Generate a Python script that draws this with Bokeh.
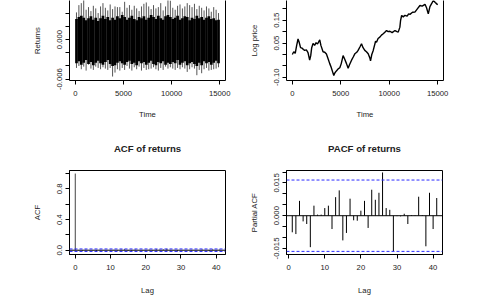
from bokeh.plotting import figure
from bokeh.layouts import column, row
from bokeh.models import FixedTicker, NumeralTickFormatter, LinearAxis, Span, Range1d
from bokeh.embed import file_html
from bokeh.resources import INLINE

# ---------------- data ----------------
# Returns: per-bin envelope (bins of 250 time steps) read from the dense band
ret_time = list(range(125, 15000, 250))
ret_band_hi = [0.0031, 0.0034, 0.0036, 0.0033, 0.0029, 0.0032, 0.0035, 0.0030, 0.0033, 0.0028,
               0.0032, 0.0036, 0.0031, 0.0034, 0.0029, 0.0033, 0.0030, 0.0035, 0.0032, 0.0037,
               0.0034, 0.0030, 0.0033, 0.0036, 0.0031, 0.0029, 0.0034, 0.0032, 0.0035, 0.0030,
               0.0033, 0.0037, 0.0034, 0.0031, 0.0036, 0.0032, 0.0030, 0.0035, 0.0037, 0.0034,
               0.0031, 0.0033, 0.0036, 0.0030, 0.0032, 0.0035, 0.0034, 0.0029, 0.0033, 0.0031,
               0.0036, 0.0032, 0.0034, 0.0030, 0.0033, 0.0035, 0.0031, 0.0032, 0.0029, 0.0030]
ret_band_lo = [-0.0036, -0.0033, -0.0038, -0.0035, -0.0031, -0.0037, -0.0034, -0.0039, -0.0035, -0.0032,
               -0.0036, -0.0038, -0.0034, -0.0031, -0.0037, -0.0040, -0.0039, -0.0035, -0.0033, -0.0036,
               -0.0038, -0.0034, -0.0032, -0.0037, -0.0035, -0.0039, -0.0033, -0.0036, -0.0034, -0.0038,
               -0.0035, -0.0032, -0.0037, -0.0039, -0.0034, -0.0036, -0.0033, -0.0038, -0.0035, -0.0037,
               -0.0034, -0.0036, -0.0031, -0.0038, -0.0035, -0.0033, -0.0039, -0.0036, -0.0034, -0.0037,
               -0.0040, -0.0035, -0.0039, -0.0033, -0.0036, -0.0034, -0.0038, -0.0035, -0.0032, -0.0036]
ret_hi = [0.0041, 0.0052, 0.0055, 0.0060, 0.0045, 0.0049, 0.0043, 0.0051, 0.0047, 0.0040,
          0.0050, 0.0055, 0.0048, 0.0044, 0.0053, 0.0046, 0.0050, 0.0049, 0.0049, 0.0042,
          0.0057, 0.0048, 0.0052, 0.0045, 0.0051, 0.0047, 0.0043, 0.0050, 0.0054, 0.0056,
          0.0050, 0.0046, 0.0052, 0.0047, 0.0049, 0.0055, 0.0044, 0.0050, 0.0061, 0.0059,
          0.0048, 0.0045, 0.0051, 0.0053, 0.0047, 0.0050, 0.0055, 0.0052, 0.0049, 0.0054,
          0.0046, 0.0051, 0.0048, 0.0044, 0.0050, 0.0047, 0.0042, 0.0049, 0.0045, 0.0040]
ret_lo = [-0.0043, -0.0040, -0.0045, -0.0041, -0.0047, -0.0038, -0.0044, -0.0046, -0.0041, -0.0043,
          -0.0045, -0.0042, -0.0044, -0.0046, -0.0043, -0.0056, -0.0050, -0.0045, -0.0047, -0.0043,
          -0.0046, -0.0040, -0.0044, -0.0047, -0.0042, -0.0045, -0.0041, -0.0047, -0.0043, -0.0046,
          -0.0045, -0.0044, -0.0042, -0.0045, -0.0047, -0.0043, -0.0046, -0.0041, -0.0044, -0.0042,
          -0.0044, -0.0046, -0.0043, -0.0045, -0.0042, -0.0044, -0.0049, -0.0045, -0.0042, -0.0044,
          -0.0054, -0.0046, -0.0051, -0.0045, -0.0043, -0.0047, -0.0046, -0.0045, -0.0044, -0.0042]

# Log price
logp_time = [0, 150, 300, 450, 590, 700, 850, 1000, 1150, 1270, 1450, 1620, 1790, 1900, 2000,
             2140, 2300, 2450, 2600, 2830, 2950, 3170, 3350, 3520, 3700, 3860, 4000, 4150, 4280,
             4400, 4550, 4730, 4900, 5050, 5240, 5400, 5590, 5760, 5900, 6100, 6300, 6450, 6650,
             6790, 7000, 7140, 7300, 7480, 7650, 7830, 8000, 8070, 8200, 8350, 8590, 8690, 8850,
             9030, 9200, 9380, 9550, 9720, 9900, 10070, 10300, 10590, 10800, 10930, 11100, 11170,
             11280, 11450, 11620, 11850, 12000, 12140, 12400, 12650, 12900, 13170, 13400, 13690,
             13850, 14030, 14200, 14400, 14550, 14750, 14900, 15000]
logp_vals = [0.000, 0.012, 0.005, 0.040, 0.068, 0.055, 0.030, 0.028, 0.022, 0.018, 0.020, 0.008,
             -0.024, -0.005, 0.030, 0.048, 0.040, 0.052, 0.046, 0.064, 0.040, 0.012, 0.010, 0.002,
             -0.020, -0.040, -0.055, -0.075, -0.092, -0.080, -0.072, -0.063, -0.058, -0.040, -0.005,
             -0.020, -0.040, -0.060, -0.045, -0.026, -0.010, 0.003, 0.010, 0.018, 0.035, 0.047,
             0.030, 0.018, 0.012, 0.003, -0.015, -0.028, 0.000, 0.018, 0.058, 0.054, 0.070, 0.076,
             0.085, 0.091, 0.098, 0.105, 0.100, 0.102, 0.096, 0.105, 0.100, 0.098, 0.120, 0.149,
             0.171, 0.165, 0.172, 0.168, 0.178, 0.176, 0.185, 0.186, 0.200, 0.215, 0.212, 0.220,
             0.205, 0.178, 0.210, 0.225, 0.237, 0.228, 0.222, 0.218]

# ACF (lags 0..41) and PACF (lags 1..41)
acf_lags = list(range(0, 42))
acf_vals = [1.0, -0.0070, -0.0080, 0.0065, -0.0025, -0.0036, -0.0140, 0.0045, 0.0005, 0.0005,
            0.0034, 0.0045, -0.0060, 0.0083, 0.0113, -0.0110, -0.0077, 0.0076, -0.0020, -0.0022,
            0.0022, 0.0066, -0.0055, 0.0116, 0.0071, 0.0102, 0.0193, 0.0034, 0.0026, -0.0160,
            -0.0002, -0.0003, 0.0009, -0.0037, 0.0003, 0.0002, 0.0085, 0.0003, -0.0137, 0.0102,
            -0.0060, 0.0079]
pacf_lags = list(range(1, 42))
pacf_vals = [-0.0076, -0.0084, 0.0068, -0.0026, -0.0038, -0.0144, 0.0046, 0.0005, 0.0005, 0.0035,
             0.0046, -0.0061, 0.0085, 0.0116, -0.0113, -0.0079, 0.0078, -0.0021, -0.0023, 0.0023,
             0.0068, -0.0056, 0.0119, 0.0073, 0.0105, 0.0198, 0.0035, 0.0027, -0.0163, -0.0002,
             -0.0003, 0.0009, -0.0038, 0.0003, 0.0002, 0.0087, 0.0003, -0.0140, 0.0105, -0.0061,
             0.0081]
ci_level = 0.01633

FONT = "Liberation Sans"
TXT = "#222222"


def style(p, xticks, xminor, xfmt, yticks, yminor, yfmt, label_stand=11):
    p.xgrid.visible = False
    p.ygrid.visible = False
    p.background_fill_color = "white"
    p.border_fill_color = "white"
    p.xaxis.ticker = FixedTicker(ticks=xticks, minor_ticks=xminor)
    p.xaxis.formatter = NumeralTickFormatter(format=xfmt)
    p.yaxis.ticker = FixedTicker(ticks=yticks, minor_ticks=yminor)
    p.yaxis.formatter = NumeralTickFormatter(format=yfmt)
    p.yaxis.major_label_orientation = "vertical"
    for ax in p.xaxis + p.yaxis:
        ax.axis_line_color = "black"
        ax.major_tick_line_color = "black"
        ax.minor_tick_line_color = "black"
        ax.major_tick_out = 4
        ax.major_tick_in = 0
        ax.minor_tick_out = 4
        ax.minor_tick_in = 0
        ax.major_label_text_font = FONT
        ax.major_label_text_font_size = "7.7px"
        ax.major_label_text_color = TXT
        ax.axis_label_text_font = FONT
        ax.axis_label_text_font_size = "7.7px"
        ax.axis_label_text_font_style = "normal"
        ax.axis_label_text_color = TXT
    p.xaxis.major_label_standoff = 6
    p.xaxis.axis_label_standoff = label_stand
    p.yaxis.major_label_standoff = 3
    p.yaxis.axis_label_standoff = 13


def right_frame(p):
    ax = LinearAxis(ticker=FixedTicker(ticks=[]), axis_line_color="black",
                    major_tick_out=0, major_tick_in=0, minor_tick_out=0, minor_tick_in=0,
                    major_label_text_font_size="0px")
    p.add_layout(ax, "right")


TOP_H = 123
BOT_H = 300 - TOP_H

# ---------------- Returns ----------------
p1 = figure(width=246, height=TOP_H, title=None, output_backend="svg", toolbar_location=None,
            x_range=Range1d(-600, 15600), y_range=Range1d(-0.0062, 0.0059),
            min_border_left=69, min_border_right=21, min_border_top=0, min_border_bottom=TOP_H - 80,
            x_axis_label="Time", y_axis_label="Returns", outline_line_color=None)
p1.segment(x0=ret_time, y0=ret_lo, x1=ret_time, y1=ret_hi, line_color="#555555", line_width=1)
p1.vbar(x=ret_time, width=280, top=ret_band_hi, bottom=ret_band_lo, fill_color="black", line_color=None)
style(p1, [0, 5000, 10000, 15000], [], "0", [-0.006, 0.0], [-0.004, -0.002, 0.002, 0.004], "0.000")
right_frame(p1)

# ---------------- Log price ----------------
p2 = figure(width=246, height=TOP_H, title=None, output_backend="svg", toolbar_location=None,
            x_range=Range1d(-600, 15600), y_range=Range1d(-0.114, 0.2368),
            min_border_left=40, min_border_right=49, min_border_top=0, min_border_bottom=TOP_H - 80,
            x_axis_label="Time", y_axis_label="Log price", outline_line_color=None)
p2.line(logp_time, logp_vals, line_color="black", line_width=1.4)
style(p2, [0, 5000, 10000, 15000], [], "0", [-0.10, 0.05, 0.15], [-0.05, 0.0, 0.10, 0.20], "0.00")
right_frame(p2)

# ---------------- ACF ----------------
p3 = figure(width=246, height=BOT_H, title="ACF of returns", output_backend="svg", toolbar_location=None,
            x_range=Range1d(-1.64, 42.64), y_range=Range1d(-0.056, 1.04),
            min_border_left=69, min_border_right=21, min_border_top=170 - TOP_H, min_border_bottom=46,
            x_axis_label="Lag", y_axis_label="ACF", outline_line_color="black")
p3.segment(x0=acf_lags, y0=0, x1=acf_lags, y1=acf_vals, line_color="#444444", line_width=1)
style(p3, [0, 10, 20, 30, 40], [], "0", [0.0, 0.4, 0.8], [0.2, 0.6, 1.0], "0.0", label_stand=13)

# ---------------- PACF ----------------
p4 = figure(width=246, height=BOT_H, title="PACF of returns", output_backend="svg", toolbar_location=None,
            x_range=Range1d(-0.6, 42.6), y_range=Range1d(-0.01776, 0.0207),
            min_border_left=40, min_border_right=50, min_border_top=170 - TOP_H, min_border_bottom=46,
            x_axis_label="Lag", y_axis_label="Partial ACF", outline_line_color="black")
p4.segment(x0=pacf_lags, y0=0, x1=pacf_lags, y1=pacf_vals, line_color="black", line_width=1)
style(p4, [0, 10, 20, 30, 40], [], "0", [-0.015, 0.0, 0.015], [-0.010, -0.005, 0.005, 0.010, 0.020], "0.000",
      label_stand=13)

for p in (p3, p4):
    p.title.align = "center"
    p.title.text_font = FONT
    p.title.text_font_size = "9.6px"
    p.title.text_font_style = "bold"
    p.title.text_color = TXT
    p.title.standoff = 34
    p.add_layout(Span(location=0, dimension="width", line_color="black", line_width=1))
    p.add_layout(Span(location=ci_level, dimension="width", line_color="#2b2bff", line_width=1, line_dash="3 2"))
    p.add_layout(Span(location=-ci_level, dimension="width", line_color="#2b2bff", line_width=1, line_dash="3 2"))

layout = column(row(p1, p2), row(p3, p4))
open("out.html", "w").write(file_html(layout, INLINE))
